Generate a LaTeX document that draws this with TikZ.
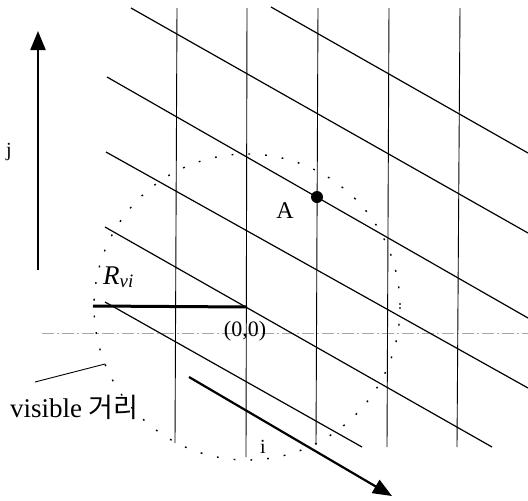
\documentclass[tikz,border=0pt]{standalone}
\usepackage{fontspec}
\setmainfont{Liberation Serif}
\newfontfamily\kr{Noto Sans CJK KR}
\usetikzlibrary{arrows.meta}
\begin{document}
\begin{tikzpicture}[x=1pt,y=-1pt,
  gridv/.style={line width=0.9pt},
  gridd/.style={line width=1.2pt},
  axisarrow/.style={line width=2.2pt,-{Triangle[length=19pt,width=15pt]}},
  dotcircle/.style={line width=1.4pt,dash pattern=on 1.8pt off 15pt},
  dashdot/.style={gray!70,line width=0.8pt,dash pattern=on 12pt off 3pt on 2pt off 3pt},
  lbl/.style={inner sep=0pt,text=black}]
\useasboundingbox (0,0) rectangle (528,501);
% key points
\coordinate (O) at (247,307);
\coordinate (Rl) at (93,306);
\coordinate (A) at (317,197);
% horizontal dash-dot axis
\coordinate (h1) at (42,333);
\coordinate (h2) at (528,333);
\draw[dashdot] (h1) -- (h2);
% dotted visible circle
\draw[dotcircle] (O) circle[radius=153];
% vertical grid lines
\draw[gridv] (177,8) -- (175,443);
\draw[gridv] (247,8) -- (246,457);
\draw[gridv] (318,8) -- (316,445);
\draw[gridv] (389,8) -- (387,447);
\draw[gridv] (460,8) -- (457,447);
% diagonal grid lines
\draw[gridd] (131,8) -- (528,233);
\draw[gridd] (271,7) -- (528,153);
\draw[gridd] (107,77) -- (528,318);
\draw[gridd] (106,152) -- (528,388);
\draw[gridd] (105,227) -- (492,447);
\draw[gridd] (105,302) -- (362,447);
% radius line
\draw[line width=3pt] (Rl) -- (O);
% point A
\fill (A) circle[radius=6];
% axis arrows
\coordinate (j0) at (38,270);
\coordinate (j1) at (38,31);
\draw[axisarrow] (j0) -- (j1);
\coordinate (i0) at (189,377);
\coordinate (i1) at (392,496);
\draw[axisarrow] (i0) -- (i1);
% labels
\node[lbl,anchor=base,font=\fontsize{20}{22}\selectfont] (jl) at (9,156) {j};
\node[lbl,anchor=base,font=\fontsize{20}{22}\selectfont] (il) at (263,453) {i};
\node[lbl,anchor=base,font=\fontsize{24}{26}\selectfont] (Al) at (285,218) {A};
\node[lbl,anchor=base west,font=\fontsize{27}{29}\selectfont] (Rvl) at (103,284) {\textit{R}\textsubscript{\textit{vi}}};
\node[lbl,font=\fontsize{22}{24}\selectfont] (Ol) at (245,331) {(0,0)};
\node[lbl,anchor=base west,font=\fontsize{27}{30}\selectfont] (vis) at (10,417) {visible {\kr 거리}};
% pointer
\coordinate (p1) at (35,382);
\coordinate (p2) at (105,364);
\draw[line width=0.9pt] (p1) -- (p2);
\end{tikzpicture}
\end{document}
